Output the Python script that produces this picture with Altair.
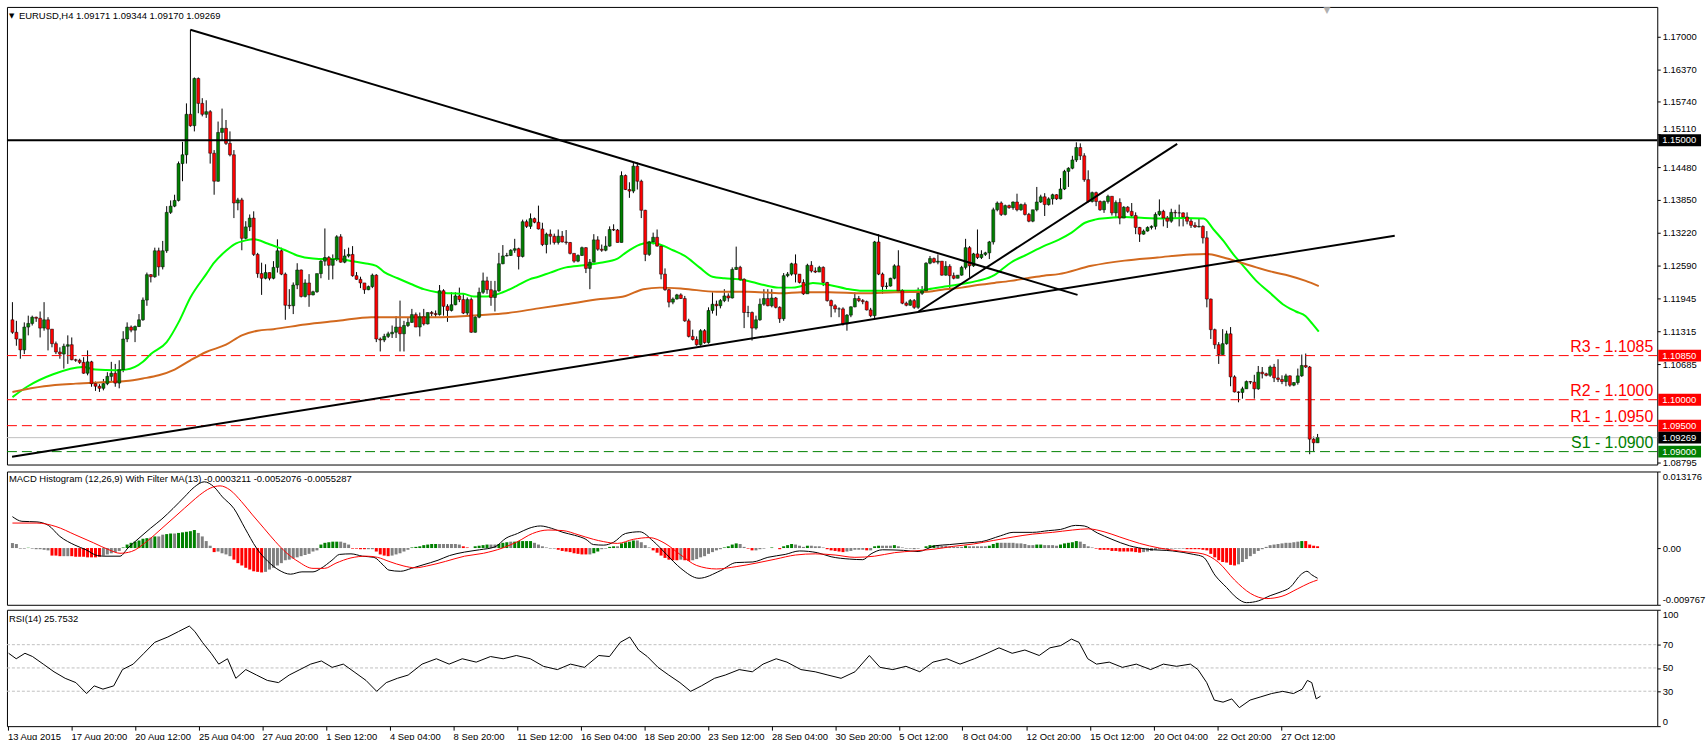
import altair as alt
import pandas as pd

# ---------------- data (prices in 1/10000) ----------------
FIRST_OPEN = 11154
CLOSE = [
11130,11117,11096,11140,11147,11159,11157,11138,11154,11136,
11108,11092,11088,11103,11106,11077,11076,11072,11051,11073,
11031,11026,11022,11031,11045,11051,11032,11058,11117,11140,
11134,11141,11154,11192,11241,11237,11287,11256,11287,11361,
11373,11384,11455,11472,11550,11528,11619,11571,11550,11555,
11475,11421,11515,11523,11494,11472,11379,11385,11311,11333,
11350,11280,11243,11234,11245,11234,11255,11287,11242,11182,
11181,11221,11250,11199,11225,11202,11208,11243,11267,11274,
11259,11271,11314,11265,11277,11280,11239,11232,11225,11212,
11218,11240,11117,11115,11122,11127,11130,11140,11127,11143,
11149,11164,11140,11160,11146,11168,11166,11164,11210,11180,
11172,11183,11200,11193,11167,11193,11130,11159,11207,11229,
11212,11197,11210,11262,11277,11278,11288,11291,11276,11343,
11334,11349,11342,11329,11299,11319,11315,11303,11315,11304,
11303,11282,11267,11278,11293,11253,11265,11308,11290,11288,
11296,11328,11327,11303,11432,11405,11402,11450,11421,11365,
11280,11304,11313,11296,11242,11212,11188,11194,11202,11195,
11152,11122,11116,11106,11133,11110,11172,11184,11181,11191,
11200,11196,11251,11255,11232,11168,11168,11138,11154,11184,
11195,11181,11196,11178,11156,11239,11242,11262,11242,11226,
11204,11259,11248,11246,11255,11226,11191,11181,11175,11175,
11146,11163,11179,11195,11191,11189,11173,11162,11304,11242,
11218,11219,11234,11258,11210,11186,11182,11191,11178,11205,
11210,11263,11272,11265,11267,11240,11257,11239,11234,11240,
11255,11293,11258,11281,11274,11280,11283,11304,11366,11379,
11357,11374,11370,11381,11366,11376,11357,11344,11366,11381,
11391,11376,11387,11395,11387,11406,11440,11446,11462,11486,
11470,11424,11382,11399,11382,11366,11382,11392,11360,11380,
11350,11371,11363,11355,11332,11319,11325,11332,11334,11357,
11363,11350,11344,11361,11360,11360,11352,11344,11336,11333,
11334,11312,11194,11135,11106,11087,11108,11127,11044,11015,
11014,11021,11035,11034,11021,11053,11050,11047,11063,11042,
11039,11035,11046,11028,11033,11046,11066,11063,10924,10917,
10927]
HIGH = [
11188,11152,11117,11149,11162,11162,11160,11170,11188,11159,
11136,11112,11101,11108,11124,11120,11079,11079,11082,11095,
11075,11035,11030,11040,11053,11073,11069,11076,11132,11149,
11143,11143,11165,11197,11245,11242,11293,11293,11306,11373,
11384,11395,11459,11497,11571,11713,11621,11621,11581,11577,
11558,11481,11536,11561,11539,11517,11481,11389,11389,11344,
11357,11363,11283,11264,11261,11245,11267,11309,11293,11245,
11213,11226,11263,11251,11232,11242,11210,11243,11269,11330,
11277,11280,11317,11319,11290,11293,11296,11246,11237,11225,
11220,11243,11242,11120,11127,11131,11143,11161,11191,11152,
11159,11175,11168,11168,11175,11168,11171,11172,11221,11213,
11184,11207,11207,11216,11204,11197,11197,11162,11216,11245,
11237,11229,11229,11283,11298,11283,11290,11310,11293,11347,
11347,11359,11351,11374,11341,11322,11328,11320,11328,11325,
11327,11304,11282,11280,11295,11294,11271,11319,11315,11299,
11315,11334,11338,11329,11440,11434,11419,11457,11457,11424,
11366,11306,11322,11328,11299,11253,11214,11197,11204,11205,
11200,11156,11135,11122,11136,11136,11178,11207,11191,11194,
11213,11205,11255,11295,11258,11234,11181,11170,11162,11195,
11213,11213,11213,11198,11180,11244,11246,11264,11280,11242,
11232,11262,11267,11255,11258,11257,11227,11193,11184,11178,
11178,11165,11180,11207,11200,11194,11191,11177,11306,11319,
11245,11226,11235,11261,11288,11213,11189,11194,11194,11216,
11219,11265,11277,11274,11280,11267,11267,11261,11245,11240,
11258,11310,11296,11283,11328,11288,11285,11306,11370,11382,
11382,11376,11376,11382,11397,11378,11380,11360,11366,11410,
11395,11398,11390,11397,11396,11427,11443,11448,11470,11496,
11494,11475,11442,11401,11401,11384,11384,11395,11392,11384,
11388,11373,11373,11379,11361,11333,11328,11334,11336,11361,
11386,11366,11354,11368,11366,11376,11361,11361,11350,11342,
11350,11336,11325,11195,11137,11111,11136,11133,11140,11047,
11016,11025,11037,11036,11048,11065,11063,11052,11066,11069,
11078,11047,11050,11047,11034,11060,11087,11089,11065,10929,
10934]
LOW = [
11127,11104,11079,11088,11124,11143,11150,11120,11133,11095,
11101,11088,11079,11060,11069,11076,11073,11069,11050,11047,
11025,11017,11015,11018,11028,11034,11025,11022,11053,11111,
11130,11111,11140,11152,11181,11226,11235,11239,11251,11283,
11358,11371,11382,11421,11455,11526,11517,11552,11546,11543,
11455,11395,11420,11500,11491,11469,11350,11365,11288,11309,
11325,11277,11235,11202,11232,11230,11232,11245,11240,11154,
11175,11165,11213,11197,11197,11179,11201,11206,11234,11258,
11231,11232,11267,11264,11263,11274,11237,11231,11215,11204,
11211,11215,11111,11093,11111,11119,11119,11119,11093,11093,
11140,11148,11140,11122,11143,11145,11161,11158,11162,11162,
11150,11170,11182,11188,11165,11162,11129,11129,11157,11204,
11204,11181,11170,11208,11261,11276,11277,11283,11251,11274,
11331,11329,11340,11328,11296,11282,11299,11299,11299,11303,
11299,11280,11264,11265,11277,11244,11213,11265,11287,11285,
11286,11295,11325,11303,11303,11404,11389,11398,11405,11350,
11267,11277,11299,11295,11232,11210,11178,11184,11193,11194,
11150,11120,11114,11104,11104,11108,11108,11166,11162,11176,
11188,11189,11195,11250,11229,11138,11159,11114,11135,11152,
11181,11180,11178,11176,11148,11152,11236,11239,11226,11224,
11202,11204,11245,11244,11246,11219,11189,11159,11168,11159,
11143,11133,11159,11178,11188,11184,11172,11159,11157,11240,
11204,11213,11218,11232,11208,11184,11180,11181,11175,11175,
11202,11207,11261,11263,11261,11239,11239,11213,11232,11234,
11239,11251,11235,11256,11271,11271,11277,11271,11299,11363,
11354,11355,11368,11366,11363,11364,11355,11342,11342,11363,
11379,11354,11374,11376,11385,11386,11404,11410,11444,11458,
11462,11420,11380,11380,11373,11364,11360,11378,11355,11350,
11338,11350,11360,11350,11319,11304,11318,11324,11328,11328,
11354,11334,11331,11341,11350,11334,11334,11338,11331,11331,
11332,11301,11178,11117,11098,11069,11087,11106,11026,11014,
10995,11002,11021,11030,11002,11019,11041,11045,11044,11034,
11034,11030,11026,11025,11026,11029,11044,11061,10895,10900,
10917]

GREEN_MA_IDX = [0,3.7,10.3,17.8,21,26,28.7,33,35,39,42,45,49,51,54,56,59,61,64.5,67,69,72,76,79,82,86,89,92,94,97.4,100.75,104,107.4,110.75,114,116.6,120,124,127.4,130.75,133,136,140,144.5,148.7,153,155,158.7,161,163.7,167,170,173.7,177,180,183.7,187,190,193.7,197,199.5,202.4,206.6,210.75,215,219,223.25,227.4,231.6,235.75,240,244,248.25,250,252.4,256.6,260.75,264.5,267.8,271.2,273.7,277,281.2,286.2,291.2,296.2,301.2,303.7,306.2,308.7,311.2,314.5,317.8,321.2,324.5,327,328.7,330.3]
GREEN_MA = [11005,11025,11049,11063,11058,11057,11058,11073,11088,11111,11149,11197,11242,11264,11287,11299,11307,11309,11301,11294,11288,11278,11272,11271,11271,11267,11263,11258,11246,11234,11223,11213,11207,11205,11204,11199,11199,11207,11219,11232,11237,11245,11255,11259,11264,11272,11283,11299,11303,11299,11288,11277,11255,11237,11234,11232,11227,11221,11216,11216,11219,11225,11221,11214,11210,11210,11210,11210,11213,11218,11223,11229,11240,11250,11264,11280,11296,11308,11322,11341,11347,11350,11352,11350,11349,11350,11349,11328,11306,11280,11258,11229,11207,11184,11170,11161,11146,11131]
ORANGE_MA_IDX = [0,8,16,24,28.7,33,37,41,45,49,54,58,62,66,74,82.4,90.75,99,107.4,115.75,124,133,140,148.7,155,159.5,163.7,169.5,178,186,194.5,199.5,206.6,215,223.25,231.6,235.75,240,244,248.25,252.4,256.6,260.75,264.5,272.8,281.2,289.5,297.8,302,306.2,310.3,314.5,318.7,322.8,327,330.3]
ORANGE_MA = [11015,11026,11031,11034,11036,11041,11047,11058,11076,11092,11106,11124,11133,11136,11145,11152,11159,11159,11159,11162,11166,11176,11184,11194,11200,11213,11216,11214,11208,11208,11205,11207,11207,11205,11207,11208,11213,11216,11221,11225,11229,11234,11239,11242,11258,11268,11274,11280,11281,11274,11265,11255,11246,11239,11229,11219]

TREND_ID = ["down", "down", "long", "long", "short", "short"]
TREND_IDX = [45, 269.3, -0.1, 349.5, 229.1, 294.5]
TREND_PRICE = [1.1713, 1.1202, 1.0890, 1.1316, 1.1170, 1.1493]

LEVELS = [1.1085, 1.1000, 1.0950, 1.0900]
LEVEL_NAMES = ["R3 - 1.1085", "R2 - 1.1000", "R1 - 1.0950", "S1 - 1.0900"]
LEVEL_COLORS = ["#ff0000", "#ff0000", "#ff0000", "#008000"]
RESIST_LINE = 1.15
LAST_PRICE = 1.09269

BOX_VALUES = [1.15, 1.1085, 1.10, 1.095, 1.09269, 1.09]
BOX_COLORS = ["#000000", "#ff0000", "#ff0000", "#ff0000", "#000000", "#008000"]

Y_TICKS = [1.17, 1.1637, 1.1574, 1.1511, 1.1448, 1.1385, 1.1322, 1.1259,
           1.11945, 1.11315, 1.10685, 1.08795]

# MACD histogram, one value per bar (units of 0.001) and its colour code
HIST = [
0.86,0.69,-0.1,-0.1,0.05,-0.1,-0.2,-0.2,-0.3,-0.4,
-1.3,-1.3,-1.4,-1.4,-1.4,-1.4,-1.5,-1.5,-1.5,-1.6,
-1.6,-1.6,-1.5,-1.3,-1.1,-0.9,-0.7,-0.5,0.1,0.6,
0.9,1.1,1.3,1.6,1.7,1.8,2.0,2.0,2.3,2.4,
2.5,2.5,2.6,2.7,2.8,2.9,3.1,2.6,2.0,1.2,
0.4,-0.7,-0.6,-0.9,-1.1,-1.4,-2.0,-2.6,-3.0,-3.4,
-3.7,-4.0,-4.1,-4.2,-4.1,-3.7,-3.4,-3.0,-2.6,-2.1,
-2.0,-1.8,-1.6,-1.4,-1.2,-1.0,-0.6,-0.4,0.6,0.9,
1.0,1.1,1.1,1.1,0.9,0.6,-0.1,-0.1,-0.2,-0.2,
-0.2,-0.2,-0.6,-1.1,-1.3,-1.4,-1.3,-1.1,-0.9,-0.6,
-0.3,0.1,0.2,0.3,0.5,0.6,0.7,0.7,0.7,0.7,
0.7,0.7,0.7,0.6,0.3,0.1,0.0,0.3,0.4,0.5,
0.6,0.6,0.6,0.7,0.9,1.0,1.1,1.1,1.2,1.2,
1.2,1.2,0.9,0.6,0.3,0.1,-0.1,-0.1,-0.3,-0.5,
-0.6,-0.7,-0.9,-1.0,-1.1,-1.1,-1.1,-0.9,-0.6,-0.2,
-0.1,0.2,0.3,0.3,0.8,1.0,1.1,1.3,1.3,1.0,
0.5,0.1,-0.4,-0.8,-1.3,-1.7,-2.0,-2.1,-2.1,-2.0,
-2.1,-2.2,-2.1,-1.9,-1.6,-1.4,-1.0,-0.7,-0.4,-0.2,
0.1,0.3,0.6,0.8,0.7,0.2,-0.1,-0.4,-0.4,-0.2,
-0.1,0.0,0.1,0.0,-0.2,0.3,0.5,0.7,0.6,0.4,
0.2,0.4,0.4,0.3,0.3,0.1,-0.2,-0.4,-0.5,-0.6,
-0.7,-0.6,-0.5,-0.3,-0.3,-0.3,-0.4,-0.4,0.3,0.4,
0.4,0.4,0.4,0.5,0.3,0.1,-0.1,-0.1,-0.2,-0.1,
0.0,0.3,0.5,0.5,0.5,0.4,0.4,0.3,0.2,0.2,
0.2,0.4,0.3,0.3,0.3,0.3,0.3,0.4,0.7,0.9,
0.9,0.9,0.9,0.9,0.8,0.8,0.7,0.5,0.5,0.6,
0.6,0.5,0.5,0.5,0.4,0.6,0.8,0.9,1.0,1.2,
1.1,0.7,0.3,0.1,-0.1,-0.3,-0.3,-0.3,-0.5,-0.5,
-0.6,-0.6,-0.6,-0.6,-0.7,-0.8,-0.7,-0.6,-0.5,-0.3,
-0.2,-0.2,-0.2,-0.1,-0.1,-0.1,-0.1,-0.2,-0.2,-0.2,
-0.2,-0.3,-0.4,-1.0,-1.6,-2.1,-2.4,-2.5,-2.9,-3.0,
-2.8,-2.4,-1.9,-1.4,-1.0,-0.5,-0.2,0.2,0.5,0.6,
0.7,0.8,0.9,0.9,1.0,1.1,1.2,1.2,0.6,0.4,
0.3]
HIST_COLOR = list(
"nnnngnnnnn" "rrrnnrrrrr" "rrrnnnnngg" "gggggngnng" "gngggggnnn"
"nrnnnnrrrr" "rrrrnnnnnn" "nnnnnnnngg" "gggnnnrrrr" "nnrrrrnnnn"
"ngggggggnn" "nnnnrrnggg" "gnngggnggg" "ggnnnnnnrr" "rrrrrrnggn"
"nggnggggnn" "nnrrrrrrrn" "rrnnnnnnnn" "ggggnnrrnn" "nngnrgggnn"
"ngnnnnrrrr" "rnnnnnrngg" "nnngnnnnnn" "ngggnnnnnn" "ngnnnnnggg"
"nnnnnnnnng" "gnnnnggggg" "nnnnrrrrrr" "rrrrrrnnnn" "nnnnnnnrrr"
"rrrrrrrrrr" "nnnnnnnnnn" "nnnnnngrrr" "r")

MACD_IDX = [0,2.4,6.2,9.1,12,15.8,18.6,21.5,23.4,27.2,29.2,32,34.9,37.8,40.6,43.5,46,48.5,51,53.1,56,58.8,61.7,64.6,67.4,70.3,73.2,76,78,80.8,82.7,85.6,88.5,91.4,93.7,95.2,98.1,100.9,103.8,107.6,110.5,114.3,118.1,122,124.8,127.7,130.6,133.5,136.3,139.2,142.1,145,146.9,149.5,152,155,158.6,162,165.4,169,173.6,179,183,187.2,191,195.4,199,203.5,207,211.7,215,217.1,220,225.3,229,233.4,237,241.6,245,249.8,253,257.9,262,265,268.8,271,274.3,278,282.4,287,293.3,298.7,301,304.2,307,309.6,312,315,318,320.5,323,325.9,327.3,328.5,330]
MACD_MAIN = [0.0054,0.0046,0.0045,0.0039,0.0020,0.0005,-0.0003,-0.0013,-0.0014,-0.0014,0.0,0.0017,0.0034,0.0050,0.0068,0.0088,0.0105,0.0114,0.0105,0.0088,0.0068,0.0034,0.0,-0.0023,-0.0038,-0.0045,-0.0041,-0.0041,-0.0035,-0.0021,-0.0011,-0.0010,-0.0014,-0.0016,-0.0029,-0.0038,-0.0040,-0.0035,-0.0029,-0.0021,-0.0013,-0.0007,-0.0003,0.0002,0.0017,0.0025,0.0034,0.0038,0.0034,0.0027,0.0022,0.0015,0.0006,0.0005,0.0010,0.0025,0.0028,0.0012,-0.0011,-0.0035,-0.0052,-0.0039,-0.0025,-0.0024,-0.0016,-0.0011,-0.0005,-0.0008,-0.0015,-0.0019,-0.0020,-0.0010,-0.0003,-0.0004,-0.0006,0.0004,0.0006,0.0009,0.0011,0.0021,0.0027,0.0027,0.0030,0.0032,0.0039,0.0038,0.0026,0.0015,0.0004,-0.0002,-0.0005,-0.0011,-0.0015,-0.0048,-0.0068,-0.0086,-0.0094,-0.0091,-0.0082,-0.0076,-0.0068,-0.0045,-0.0040,-0.0046,-0.0052]
SIGNAL_IDX = [0,6.2,11,15.8,20.5,24.4,27.2,30.1,33.9,37.8,41.6,45.4,47.3,50,52.5,55,57.9,60.7,63.6,66.5,69.4,72.2,76,78.9,81.8,85.6,89.5,92.3,95.2,99,101.9,104.7,109.5,114.3,119.1,123.9,127.7,131.5,135.4,139.2,143,146.9,149.5,153,157,161,165,169,173,178,183,188,193,198,203,208,213,218,223,228,233,238,243,248,253,258,263,268,272,276,280,285,290,296,301,305,309,313,317,321,325,328,330]
SIGNAL = [0.0043,0.0043,0.0037,0.0023,0.0009,-0.0003,-0.0009,-0.0006,0.0011,0.0034,0.0057,0.0080,0.0091,0.0103,0.0107,0.0100,0.0080,0.0057,0.0034,0.0011,-0.0009,-0.0023,-0.0035,-0.0035,-0.0026,-0.0017,-0.0014,-0.0016,-0.0023,-0.0031,-0.0034,-0.0031,-0.0023,-0.0014,-0.0009,0.0,0.0011,0.0025,0.0031,0.0030,0.0023,0.0015,0.0011,0.0008,0.0015,0.0018,0.0008,-0.0012,-0.0030,-0.0036,-0.0032,-0.0026,-0.0019,-0.0012,-0.0010,-0.0012,-0.0016,-0.0014,-0.0008,-0.0005,-0.0002,0.0003,0.0007,0.0013,0.0019,0.0024,0.0027,0.0031,0.0033,0.0028,0.0019,0.0008,0.0,-0.0006,-0.0010,-0.0025,-0.0055,-0.0078,-0.0087,-0.0083,-0.0070,-0.0060,-0.0055]

RSI_IDX = [0.3,2.2,4.4,6.3,9,11.7,14.5,17.2,19.9,21.8,24,26.7,28.9,31.6,34.3,37,40.3,43,45.7,47.1,49,51.2,53.1,55.3,57.4,59.9,62.6,65.3,68.1,70.8,73.5,76.2,78.9,81.6,84.4,87.1,90.1,92.8,95.2,98,100.7,104.2,107.8,111,114.3,117.8,121.4,124.6,127.9,131.4,134.7,138.2,141.5,145,148.6,151.3,154,156.4,158.6,160.8,163.5,166.2,169,171.7,174.4,177.7,180.4,183.9,187.2,189.9,193.2,195.9,199.4,203,206.2,209.5,213,216.6,219.3,222.5,225.8,229.3,232.6,236.1,239.4,243,246.2,249.2,252.5,255.7,259.3,262,264.7,267.4,269.3,271.5,273.7,276.9,280.2,283.7,287.3,290.5,293.8,297.3,299.2,301.4,303.3,305.5,307.7,309.6,312.3,315,317.7,320.5,323.2,325.4,326.7,327.8,328.9,330]
RSI = [62.6,57.9,62.6,59.8,53.3,46.7,41.1,37.4,28,34.6,31.8,34.6,48.6,53.3,62.6,72,76.6,81.3,86,81.3,72,62.6,53.3,57.9,41.1,48.6,43.9,39.3,37.4,43.9,48.6,53.3,56,50.5,53.3,46.7,39.3,29.9,37.4,41.1,43.9,53.3,57.9,53.3,57.9,55,59.8,57.9,60.7,57.9,51.4,48.6,53.3,50.5,60.7,59.8,72,76.6,65.4,59.8,50.5,43.9,37.4,29.9,34.6,41.1,43.9,48.6,46.7,53.3,57.9,55,48.6,46.7,43.9,41.1,46.7,60.7,50.5,48.6,51.4,46.7,55,57.9,53.3,57.9,62.6,67.3,62.6,65.4,60.7,67.3,69.2,74.8,72,57.9,53.3,55,50.5,53.3,48.6,53.3,51.4,53.3,48.6,37.4,22.4,20.6,23.4,15.9,22.4,25.2,28,29.9,28,31.8,39.3,37.4,23.4,25.75]

X_TICK_LABELS = ['13 Aug 2015', '17 Aug 20:00', '20 Aug 12:00', '25 Aug 04:00', '27 Aug 20:00',
                 '1 Sep 12:00', '4 Sep 04:00', '8 Sep 20:00', '11 Sep 12:00', '16 Sep 04:00',
                 '18 Sep 20:00', '23 Sep 12:00', '28 Sep 04:00', '30 Sep 20:00', '5 Oct 12:00',
                 '8 Oct 04:00', '12 Oct 20:00', '15 Oct 12:00', '20 Oct 04:00', '22 Oct 20:00',
                 '27 Oct 12:00']
BARS_PER_TICK = 16

TITLE_MAIN = "EURUSD,H4  1.09171 1.09344 1.09170 1.09269"
TITLE_MACD = "MACD Histogram (12,26,9) With Filter MA(13) -0.0003211 -0.0052076 -0.0055287"
TITLE_RSI = "RSI(14) 25.7532"

# ---------------- layout ----------------
W = 1659
H_MAIN, H_MACD, H_RSI = 460, 134, 117
XDOM = [-0.125, 414.625]
MAIN_DOM = [1.087512, 1.175685]
MACD_DOM = [-0.009767, 0.013176]
FONT = "Liberation Sans"
FS = 9.5
GREEN, RED, GRAY = "#008000", "#ff0000", "#808080"

xs = alt.Scale(domain=XDOM, nice=False, zero=False)
X = alt.X("i:Q", scale=xs, axis=None)

n = len(CLOSE)
opens = [FIRST_OPEN] + CLOSE[:-1]
candles = pd.DataFrame({
    "i": list(range(n)),
    "o": [v / 10000 for v in opens],
    "h": [v / 10000 for v in HIGH],
    "l": [v / 10000 for v in LOW],
    "c": [v / 10000 for v in CLOSE],
})
candles["col"] = [GREEN if c >= o else RED for o, c in zip(candles["o"], candles["c"])]

ys_main = alt.Scale(domain=MAIN_DOM, nice=False, zero=False)
# the label that sits behind the 1.15000 box is nudged up so it stays readable
label_shift = {"condition": {"test": "abs(datum.value - 1.1511) < 0.00001", "value": -6}, "value": 0}
main_axis = alt.Axis(orient="right", values=Y_TICKS, format=".5f", grid=False, domain=False,
                     tickSize=3, tickColor="black", labelPadding=2, title=None,
                     labelOffset=label_shift)


def YM(field):
    return alt.Y(field, scale=ys_main, axis=main_axis)


base = alt.Chart(candles)
wicks = base.mark_rule(color="black", strokeWidth=1).encode(x=X, y=YM("l:Q"), y2="h:Q")
bodies = base.mark_bar(width=3, stroke="black", strokeWidth=0.5).encode(
    x=X, y=YM("o:Q"), y2="c:Q", color=alt.Color("col:N", scale=None))

green_ma = alt.Chart(pd.DataFrame({"i": GREEN_MA_IDX, "v": [v / 10000 for v in GREEN_MA]})).mark_line(
    strokeWidth=2, color="#00ff00", interpolate="monotone").encode(x=X, y=YM("v:Q"))
orange_ma = alt.Chart(pd.DataFrame({"i": ORANGE_MA_IDX, "v": [v / 10000 for v in ORANGE_MA]})).mark_line(
    strokeWidth=2, color="#d2691e", interpolate="monotone").encode(x=X, y=YM("v:Q"))

lv_df = pd.DataFrame({"p": LEVELS, "name": LEVEL_NAMES, "col": LEVEL_COLORS})
lv_lines = alt.Chart(lv_df).mark_rule(strokeDash=[10, 5], strokeWidth=1).encode(
    y=YM("p:Q"), x=alt.value(0), x2=alt.value(W), color=alt.Color("col:N", scale=None))
lv_text = alt.Chart(lv_df).mark_text(align="right", baseline="bottom", dy=-1, fontSize=16, font=FONT).encode(
    y=YM("p:Q"), x=alt.value(W - 4), text="name:N", color=alt.Color("col:N", scale=None))

last_line = alt.Chart(pd.DataFrame({"p": [LAST_PRICE]})).mark_rule(color="#c0c0c0", strokeWidth=1).encode(
    y=YM("p:Q"), x=alt.value(0), x2=alt.value(W))
res_line = alt.Chart(pd.DataFrame({"p": [RESIST_LINE]})).mark_rule(color="black", strokeWidth=2).encode(
    y=YM("p:Q"), x=alt.value(0), x2=alt.value(W))

tr_df = pd.DataFrame({"id": TREND_ID, "i": TREND_IDX, "p": TREND_PRICE})
trends = alt.Chart(tr_df).mark_line(color="black", strokeWidth=2).encode(
    x=X, y=YM("p:Q"), detail="id:N")

box_df = pd.DataFrame({"p": BOX_VALUES, "col": BOX_COLORS, "t": [f"{v:.5f}" for v in BOX_VALUES]})
boxes = alt.Chart(box_df).mark_rect(yOffset=-6, y2Offset=6).encode(
    y=YM("p:Q"), y2="p:Q", x=alt.value(W + 1), x2=alt.value(W + 44), color=alt.Color("col:N", scale=None))
box_txt = alt.Chart(box_df).mark_text(align="left", baseline="middle", color="white", fontSize=FS, font=FONT).encode(
    y=YM("p:Q"), x=alt.value(W + 5), text="t:N")

hdr = alt.Chart(pd.DataFrame({"t": [TITLE_MAIN]})).mark_text(
    align="left", baseline="middle", fontSize=FS, font=FONT, color="black").encode(
    x=alt.value(12), y=alt.value(9), text="t:N")
hdr_tri = alt.Chart(pd.DataFrame({"t": ["▼"]})).mark_text(
    align="left", baseline="middle", fontSize=7, font="DejaVu Sans", color="black").encode(
    x=alt.value(2), y=alt.value(9), text="t:N")
shift_tri = alt.Chart(pd.DataFrame({"t": ["▼"]})).mark_text(
    align="center", baseline="middle", fontSize=9, font="DejaVu Sans", color="#b0b0b0").encode(
    x=alt.value(1327), y=alt.value(3), text="t:N")

main = alt.layer(wicks, lv_lines, last_line, green_ma, orange_ma, bodies, trends, res_line,
                 lv_text, boxes, box_txt, hdr, hdr_tri, shift_tri).properties(width=W, height=H_MAIN)

# ---------------- MACD ----------------
ys_macd = alt.Scale(domain=MACD_DOM, nice=False, zero=False)
macd_axis = alt.Axis(orient="right", values=[MACD_DOM[0], 0, MACD_DOM[1]],
                     labelExpr="datum.value == 0 ? '0.00' : (datum.value > 0 ? '0.013176' : '-0.009767')",
                     grid=False, domain=False, tickSize=3, tickColor="black", labelPadding=2,
                     labelFlush=True, title=None)
color_map = {"g": GREEN, "r": RED, "n": GRAY}
hist_df = pd.DataFrame({"i": list(range(len(HIST))), "v": [h / 1000 for h in HIST],
                        "z": [0.0] * len(HIST), "col": [color_map[c] for c in HIST_COLOR]})
hist = alt.Chart(hist_df).mark_bar(width=3).encode(
    x=X, y=alt.Y("v:Q", scale=ys_macd, axis=macd_axis), y2="z:Q", color=alt.Color("col:N", scale=None))
macd_line = alt.Chart(pd.DataFrame({"i": MACD_IDX, "v": MACD_MAIN})).mark_line(
    strokeWidth=1, color="black", interpolate="monotone").encode(
    x=X, y=alt.Y("v:Q", scale=ys_macd, axis=macd_axis))
sig_line = alt.Chart(pd.DataFrame({"i": SIGNAL_IDX, "v": SIGNAL})).mark_line(
    strokeWidth=1, color="#ff0000", interpolate="monotone").encode(
    x=X, y=alt.Y("v:Q", scale=ys_macd, axis=macd_axis))
macd_hdr = alt.Chart(pd.DataFrame({"t": [TITLE_MACD]})).mark_text(
    align="left", baseline="middle", fontSize=FS, font=FONT, color="black").encode(
    x=alt.value(2), y=alt.value(8), text="t:N")
macd = alt.layer(hist, macd_line, sig_line, macd_hdr).properties(width=W, height=H_MACD)

# ---------------- RSI ----------------
ys_rsi = alt.Scale(domain=[0, 100], nice=False, zero=False)
labels_js = "[" + ",".join("'" + s + "'" for s in X_TICK_LABELS) + "]"
x_axis = alt.Axis(orient="bottom", values=[k * BARS_PER_TICK for k in range(len(X_TICK_LABELS))],
                  labelExpr=labels_js + f"[round(datum.value / {BARS_PER_TICK})]",
                  labelAlign="left", labelPadding=1, labelOverlap=False, labelFlush=False,
                  grid=False, domain=False, tickSize=4, tickColor="black", title=None)
rsi_axis = alt.Axis(orient="right", values=[0, 30, 50, 70, 100], grid=False, domain=False,
                    tickSize=3, tickColor="black", labelPadding=2, labelFlush=True, title=None)
rsi_levels = alt.Chart(pd.DataFrame({"v": [30, 50, 70]})).mark_rule(
    color="#c0c0c0", strokeDash=[3, 2], strokeWidth=1).encode(
    y=alt.Y("v:Q", scale=ys_rsi, axis=rsi_axis), x=alt.value(0), x2=alt.value(W))
rsi_line = alt.Chart(pd.DataFrame({"i": RSI_IDX, "v": RSI})).mark_line(
    color="black", strokeWidth=1).encode(
    x=alt.X("i:Q", scale=xs, axis=x_axis), y=alt.Y("v:Q", scale=ys_rsi, axis=rsi_axis))
rsi_hdr = alt.Chart(pd.DataFrame({"t": [TITLE_RSI]})).mark_text(
    align="left", baseline="middle", fontSize=FS, font=FONT, color="black").encode(
    x=alt.value(2), y=alt.value(9), text="t:N")
bottom_strip = alt.Chart(pd.DataFrame({"t": [0]})).mark_rect(color="#f0f0f0").encode(
    x=alt.value(-3), x2=alt.value(W + 47), y=alt.value(H_RSI + 16), y2=alt.value(H_RSI + 20))
rsi = alt.layer(rsi_levels, rsi_line, rsi_hdr, bottom_strip).properties(width=W, height=H_RSI)

chart = alt.vconcat(main, macd, rsi, spacing=3).properties(
    padding={"left": 3, "top": 3, "right": 0, "bottom": 0},
    background="white",
).configure_view(stroke="black", strokeWidth=1).configure_axis(
    labelFont=FONT, labelFontSize=FS, labelColor="black"
).configure_concat(spacing=3)

chart.save("out.html", embed_options={"renderer": "svg", "actions": False})
